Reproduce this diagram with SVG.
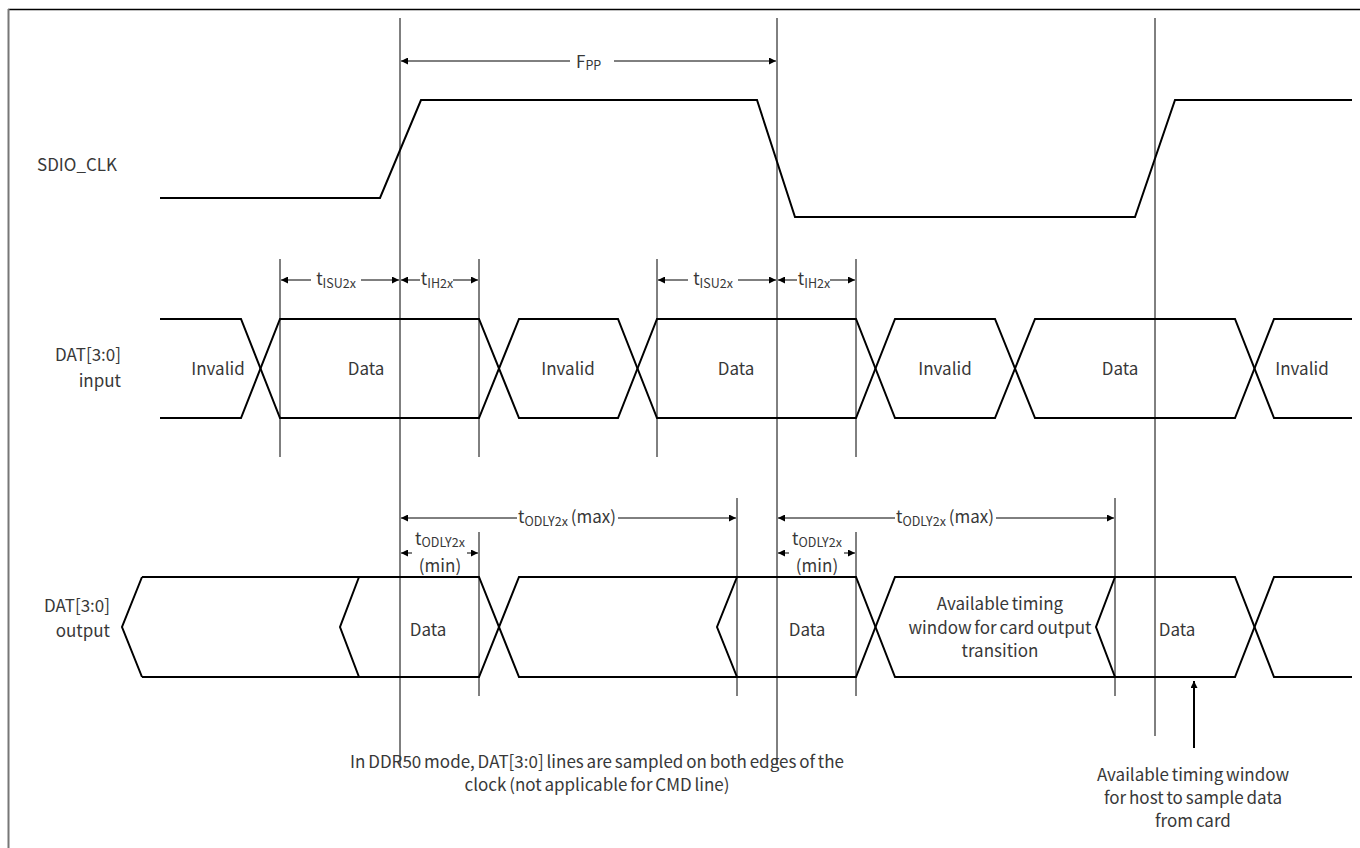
<svg xmlns="http://www.w3.org/2000/svg" width="1360" height="848" viewBox="0 0 1360 848">
<defs>
<marker id="ah" viewBox="0 0 10 10" refX="10" refY="5" markerWidth="9" markerHeight="7" markerUnits="userSpaceOnUse" orient="auto-start-reverse"><path d="M0,0 L10,5 L0,10 z" fill="#000"/></marker>
<style>
.sig{fill:none;stroke:#000;stroke-width:2;stroke-linejoin:miter}
.vl{stroke:#000;stroke-width:1;fill:none}
.ar{stroke:#000;stroke-width:1;fill:none}
.t{font-family:"Noto Sans CJK SC","Noto Sans",sans-serif;font-size:17px;fill:#383838;word-spacing:-1px}
.m{text-anchor:middle}
.e{text-anchor:end}
.s{font-size:12.5px}
</style>
</defs>
<rect width="1360" height="848" fill="#fff"/>
<g id="frame">
<line x1="8" y1="9.5" x2="1360" y2="9.5" stroke="#000" stroke-width="1.5"/>
<line x1="8.5" y1="9" x2="8.5" y2="848" stroke="#777" stroke-width="2"/>
</g>
<g id="labels">
<text class="t" x="37" y="171">SDIO_CLK</text>
<text class="t e" x="121" y="361">DAT[3:0]</text>
<text class="t e" x="121" y="387">input</text>
<text class="t e" x="110" y="612">DAT[3:0]</text>
<text class="t e" x="110" y="637">output</text>
</g>
<g id="sdio_clk">
<polyline class="sig" points="160,198 380,198 421,100 757,100 795,217 1135,217 1175,100 1352,100"/>
</g>
<g id="dat_input">
<polyline class="sig" points="160,319 241,319 280,418 479,418 519,319 618,319 657,418 856,418 895,319 995,319 1035,418 1235,418 1274,319 1352,319"/>
<polyline class="sig" points="160,418 241,418 280,319 479,319 519,418 618,418 657,319 856,319 895,418 995,418 1035,319 1235,319 1274,418 1352,418"/>
<text class="t m" x="218" y="375">Invalid</text>
<text class="t m" x="366" y="375">Data</text>
<text class="t m" x="568" y="375">Invalid</text>
<text class="t m" x="736" y="375">Data</text>
<text class="t m" x="945" y="375">Invalid</text>
<text class="t m" x="1120" y="375">Data</text>
<text class="t m" x="1302" y="375">Invalid</text>
</g>
<g id="dat_output">
<polyline class="sig" points="142,577 122,627 142,677"/>
<polyline class="sig" points="142,577 479,577 519,677 856,677 895,577 1235,577 1274,677 1352,677"/>
<polyline class="sig" points="142,677 479,677 519,577 856,577 895,677 1235,677 1274,577 1352,577"/>
<polyline class="sig" points="359,577 340,627 359,677"/>
<polyline class="sig" points="737,577 717,627 737,677"/>
<polyline class="sig" points="1115,577 1096,627 1115,677"/>
<text class="t m" x="428" y="636">Data</text>
<text class="t m" x="807" y="636">Data</text>
<text class="t m" x="1000" y="610" font-size="16.5">Available timing</text>
<text class="t m" x="1000" y="633.5" font-size="16.5">window for card output</text>
<text class="t m" x="1000" y="657" font-size="16.5">transition</text>
<text class="t m" x="1177" y="636">Data</text>
</g>
<g id="connectors">
<line class="vl" x1="400" y1="18" x2="400" y2="765"/>
<line class="vl" x1="777" y1="18" x2="777" y2="765"/>
<line class="vl" x1="1155" y1="18" x2="1155" y2="736"/>
<line class="vl" x1="280" y1="259" x2="280" y2="457"/>
<line class="vl" x1="479" y1="259" x2="479" y2="457"/>
<line class="vl" x1="657" y1="259" x2="657" y2="457"/>
<line class="vl" x1="856" y1="259" x2="856" y2="457"/>
<line class="vl" x1="737" y1="498" x2="737" y2="696"/>
<line class="vl" x1="1115" y1="498" x2="1115" y2="696"/>
<line class="vl" x1="479" y1="532" x2="479" y2="696"/>
<line class="vl" x1="856" y1="532" x2="856" y2="696"/>
<line class="ar" x1="570" y1="61" x2="401" y2="61" marker-end="url(#ah)"/>
<line class="ar" x1="614" y1="61" x2="776" y2="61" marker-end="url(#ah)"/>
<text class="t" x="576" y="68" font-size="19">F<tspan class="s" dy="2">PP</tspan></text>
<line class="ar" x1="311" y1="280" x2="281" y2="280" marker-end="url(#ah)"/>
<line class="ar" x1="361" y1="280" x2="399" y2="280" marker-end="url(#ah)"/>
<text class="t m" x="336" y="285">t<tspan class="s" dy="3">ISU2x</tspan></text>
<line class="ar" x1="420" y1="280" x2="401" y2="280" marker-end="url(#ah)"/>
<line class="ar" x1="453" y1="280" x2="478" y2="280" marker-end="url(#ah)"/>
<text class="t m" x="437" y="285">t<tspan class="s" dy="3">IH2x</tspan></text>
<line class="ar" x1="688" y1="280" x2="658" y2="280" marker-end="url(#ah)"/>
<line class="ar" x1="738" y1="280" x2="776" y2="280" marker-end="url(#ah)"/>
<text class="t m" x="713" y="285">t<tspan class="s" dy="3">ISU2x</tspan></text>
<line class="ar" x1="797" y1="280" x2="778" y2="280" marker-end="url(#ah)"/>
<line class="ar" x1="830" y1="280" x2="855" y2="280" marker-end="url(#ah)"/>
<text class="t m" x="814" y="285">t<tspan class="s" dy="3">IH2x</tspan></text>
<line class="ar" x1="517" y1="518" x2="401" y2="518" marker-end="url(#ah)"/>
<line class="ar" x1="618" y1="518" x2="736" y2="518" marker-end="url(#ah)"/>
<text class="t m" x="567" y="523">t<tspan class="s" dy="3">ODLY2x</tspan><tspan dy="-3"> (max)</tspan></text>
<line class="ar" x1="895" y1="518" x2="778" y2="518" marker-end="url(#ah)"/>
<line class="ar" x1="996" y1="518" x2="1114" y2="518" marker-end="url(#ah)"/>
<text class="t m" x="945" y="523">t<tspan class="s" dy="3">ODLY2x</tspan><tspan dy="-3"> (max)</tspan></text>
<line class="ar" x1="412" y1="553" x2="401" y2="553" marker-end="url(#ah)"/>
<line class="ar" x1="467" y1="553" x2="478" y2="553" marker-end="url(#ah)"/>
<text class="t m" x="440" y="545">t<tspan class="s" dy="2">ODLY2x</tspan></text>
<text class="t m" x="440" y="572">(min)</text>
<line class="ar" x1="789" y1="553" x2="778" y2="553" marker-end="url(#ah)"/>
<line class="ar" x1="844" y1="553" x2="855" y2="553" marker-end="url(#ah)"/>
<text class="t m" x="817" y="545">t<tspan class="s" dy="2">ODLY2x</tspan></text>
<text class="t m" x="817" y="572">(min)</text>
<line x1="1194" y1="748" x2="1194" y2="681" stroke="#000" stroke-width="2" marker-end="url(#ah)"/>
</g>
<g id="notes">
<text class="t m" x="597" y="768">In DDR50 mode, DAT[3:0] lines are sampled on both edges of the</text>
<text class="t m" x="597" y="791">clock (not applicable for CMD line)</text>
<text class="t m" x="1193" y="781">Available timing window</text>
<text class="t m" x="1193" y="804">for host to sample data</text>
<text class="t m" x="1193" y="827">from card</text>
</g>
</svg>
